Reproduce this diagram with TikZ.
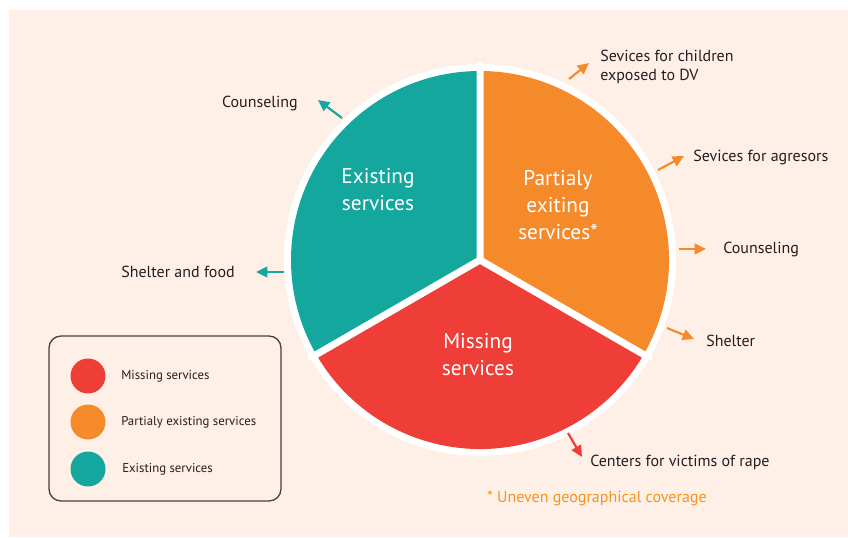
\documentclass[tikz,border=0pt]{standalone}
\usepackage{fontspec}
\setmainfont{PT Sans}
\usetikzlibrary{arrows.meta}
\definecolor{bgpeach}{HTML}{FEF0E7}
\definecolor{cteal}{HTML}{13A79D}
\definecolor{corange}{HTML}{F58A2A}
\definecolor{cred}{HTML}{EF3E37}
\definecolor{ctext}{HTML}{231F20}
\definecolor{cnote}{HTML}{F7941D}
\tikzset{
  lbl/.style={text=ctext, inner sep=0pt, font=\fontsize{12pt}{14.5pt}\selectfont, align=left},
  pietext/.style={text=white, inner sep=0pt, align=center, font=\fontsize{16pt}{20.25pt}\selectfont},
  legtext/.style={text=ctext, inner sep=0pt, anchor=west, font=\fontsize{9.6pt}{11pt}\selectfont},
  note/.style={text=cnote, inner sep=0pt, font=\fontsize{12pt}{14.5pt}\selectfont},
  arr/.style={line width=1.6pt, -{Triangle[length=8.5pt,width=8pt]}},
  legdot/.style={circle, minimum size=26.25pt, inner sep=0pt},
}
\begin{document}
\begin{tikzpicture}[x=0.75pt,y=-0.75pt]
\useasboundingbox (0,0) rectangle (848,537);
\fill[bgpeach] (9,10) rectangle (848,537);

% pie
\begin{scope}[shift={(480,260)},x=0.75pt,y=0.75pt]
  \fill[white] (0,0) circle[radius=147pt];
  \fill[cteal] (0,0) -- (90:141.75pt) arc[start angle=90,end angle=210,radius=141.75pt] -- cycle;
  \fill[cred] (0,0) -- (210:141.75pt) arc[start angle=210,end angle=330,radius=141.75pt] -- cycle;
  \fill[corange] (0,0) -- (-30:141.75pt) arc[start angle=-30,end angle=90,radius=141.75pt] -- cycle;
  \draw[white,line width=5.25pt,line cap=round] (0,0) -- (90:146pt) (0,0) -- (210:146pt) (0,0) -- (-30:146pt);
\end{scope}

\node[pietext] (pex) at (378,190) {Existing\\services};
\node[pietext] (ppa) at (558,205) {Partialy\\exiting\\services*};
\node[pietext] (pmi) at (478,355) {Missing\\services};

% labels
\node[lbl,anchor=west] (l1) at (600,67) {Sevices for children\\exposed to DV};
\node[lbl,anchor=west] (l2) at (693,157) {Sevices for agresors};
\node[lbl,anchor=west] (l3) at (723,249) {Counseling};
\node[lbl,anchor=west] (l4) at (706,341) {Shelter};
\node[lbl,anchor=west] (l5) at (590,462) {Centers for victims of rape};
\node[lbl,anchor=east] (l6) at (298,103) {Counseling};
\node[lbl,anchor=east] (l7) at (235,272) {Shelter and food};
\node[note,anchor=west] (fn) at (487,498) {* Uneven geographical coverage};

% arrows
\coordinate (a1t) at (569,79);  \coordinate (a1h) at (589,63);
\coordinate (a2t) at (658,170); \coordinate (a2h) at (684,156);
\coordinate (a3t) at (679,249); \coordinate (a3h) at (706,249);
\coordinate (a4t) at (667,328); \coordinate (a4h) at (694,339);
\coordinate (a5t) at (568,433); \coordinate (a5h) at (582,457);
\coordinate (a6t) at (342,118); \coordinate (a6h) at (318,100);
\coordinate (a7t) at (284,272); \coordinate (a7h) at (256,272);
\draw[arr,corange] (a1t) -- (a1h);
\draw[arr,corange] (a2t) -- (a2h);
\draw[arr,corange] (a3t) -- (a3h);
\draw[arr,corange] (a4t) -- (a4h);
\draw[arr,cred] (a5t) -- (a5h);
\draw[arr,cteal] (a6t) -- (a6h);
\draw[arr,cteal] (a7t) -- (a7h);

% legend
\draw[ctext!85, line width=1pt, rounded corners=9pt] (49,336) rectangle (281,501);
\node[legdot, fill=cred] (d1) at (88,376) {};
\node[legdot, fill=corange] (d2) at (88,422) {};
\node[legdot, fill=cteal] (d3) at (88,469) {};
\node[legtext] (t1) at (121,376) {Missing services};
\node[legtext] (t2) at (121,422) {Partialy existing services};
\node[legtext] (t3) at (122,469) {Existing services};
\end{tikzpicture}
\end{document}
